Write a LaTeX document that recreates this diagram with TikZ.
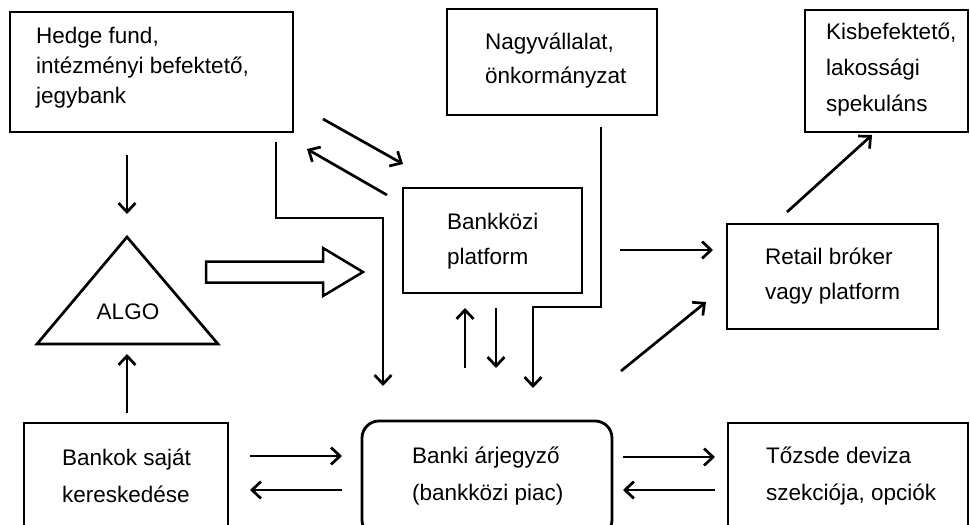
\documentclass[tikz,border=0pt]{standalone}
\usepackage{fontspec}
\setmainfont{Liberation Sans}
\usetikzlibrary{arrows.meta}
\newcommand\mystrut{\rule{0pt}{20pt}}
\begin{document}
\begin{tikzpicture}[x=1pt,y=-1pt,
  box/.style={draw, line width=2.8pt, rectangle, inner sep=0pt},
  txt/.style={inner sep=0pt, align=left, anchor=north west, font=\fontsize{22.5}{#1}\selectfont},
  txt/.default=36,
  arr/.style={line width=2.7pt, -{Straight Barb[length=9pt,width=17pt]}},
  ln/.style={line width=2.7pt, line join=miter},
]
\useasboundingbox (0,0) rectangle (970,525);
\clip (0,0) rectangle (970,525);

% boxes
\node[box, minimum width=283pt, minimum height=120pt] (hedge) at (151.5,72) {};
\node[box, minimum width=210pt, minimum height=106pt] (nagy) at (552,62) {};
\node[box, minimum width=163pt, minimum height=122pt] (kis) at (886.5,71) {};
\node[box, minimum width=179pt, minimum height=105pt] (bankkozi) at (492.5,240.5) {};
\node[box, minimum width=211pt, minimum height=105pt] (retail) at (832.5,276.5) {};
\node[box, minimum width=204pt, minimum height=112pt] (bankok) at (126,479) {};
\node[box, rounded corners=17pt, minimum width=250pt, minimum height=116pt] (banki) at (487,479) {};
\node[box, minimum width=240pt, minimum height=112pt] (tozsde) at (848,479) {};

% texts
\node[txt=30] (hedgeT) at (36,23) {\mystrut Hedge fund,\\intézményi befektető,\\jegybank};
\node[txt=34] (nagyT) at (485,29) {\mystrut Nagyvállalat,\\önkormányzat};
\node[txt=36] (kisT) at (826,19) {\mystrut Kisbefektető,\\lakossági\\spekuláns};
\node[txt=35] (bankkoziT) at (447,209) {\mystrut Bankközi\\platform};
\node[txt=35] (retailT) at (765,244) {\mystrut Retail bróker\\vagy platform};
\node[txt=37] (bankokT) at (62,445) {\mystrut Bankok saját\\kereskedése};
\node[txt=37] (bankiT) at (412,443) {\mystrut Banki árjegyző\\(bankközi piac)};
\node[txt=37] (tozsdeT) at (766,443) {\mystrut Tőzsde deviza\\szekciója, opciók};

% ALGO triangle
\draw[ln] (127,237) -- (218,344) -- (37,344) -- cycle;
\node[inner sep=0pt, font=\fontsize{22.5}{27}\selectfont] (algo) at (128,312) {ALGO};

% block arrow
\draw[ln, line width=2.5pt] (206,261.5) -- (323,261.5) -- (323,248) -- (363,272) -- (323,296) -- (323,282.5) -- (206,282.5) -- cycle;

% connector end points
\coordinate (a1s) at (127,155);  \coordinate (a1e) at (127,214);
\coordinate (a2s) at (127,413);  \coordinate (a2e) at (127,354);
\coordinate (a3s) at (323,119);  \coordinate (a3e) at (403,164);
\coordinate (a4s) at (387,195);  \coordinate (a4e) at (307,149);
\coordinate (a5s) at (276,142);  \coordinate (a5m) at (383,218); \coordinate (a5e) at (383,386);
\coordinate (a6s) at (601,127);  \coordinate (a6m) at (533,307); \coordinate (a6e) at (533,388);
\coordinate (a7s) at (465,368);  \coordinate (a7e) at (465,308);
\coordinate (a8s) at (496,308);  \coordinate (a8e) at (496,368);
\coordinate (a9s) at (620,250);  \coordinate (a9e) at (713,250);
\coordinate (a10s) at (621,371); \coordinate (a10e) at (706,302);
\coordinate (a11s) at (787,212); \coordinate (a11e) at (872,135);
\coordinate (a12s) at (250,456); \coordinate (a12e) at (342,456);
\coordinate (a13s) at (342,490); \coordinate (a13e) at (250,490);
\coordinate (a14s) at (623,457); \coordinate (a14e) at (715,457);
\coordinate (a15s) at (715,490); \coordinate (a15e) at (623,490);

\draw[arr] (a1s) -- (a1e);
\draw[arr] (a2s) -- (a2e);
\draw[arr] (a3s) -- (a3e);
\draw[arr] (a4s) -- (a4e);
\draw[arr] (a5s) |- (a5m) -- (a5e);
\draw[arr] (a6s) |- (a6m) -- (a6e);
\draw[arr] (a7s) -- (a7e);
\draw[arr] (a8s) -- (a8e);
\draw[arr] (a9s) -- (a9e);
\draw[arr] (a10s) -- (a10e);
\draw[arr] (a11s) -- (a11e);
\draw[arr] (a12s) -- (a12e);
\draw[arr] (a13s) -- (a13e);
\draw[arr] (a14s) -- (a14e);
\draw[arr] (a15s) -- (a15e);
\end{tikzpicture}
\end{document}
